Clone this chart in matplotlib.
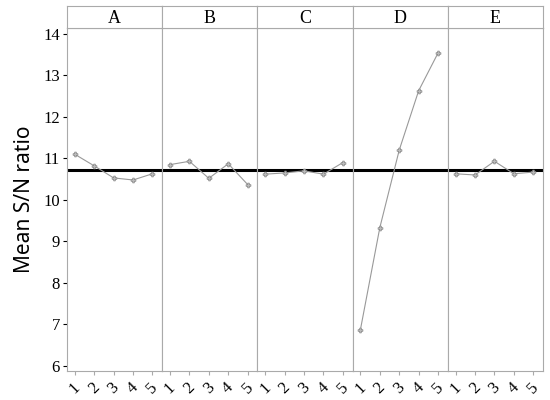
import matplotlib
matplotlib.use('Agg')
import matplotlib.pyplot as plt

factors = ['A', 'B', 'C', 'D', 'E']
levels = [1, 2, 3, 4, 5]
a_vals = [11.10, 10.82, 10.53, 10.48, 10.63]
b_vals = [10.85, 10.93, 10.52, 10.87, 10.37]
c_vals = [10.62, 10.65, 10.70, 10.62, 10.90]
d_vals = [6.87, 9.33, 11.20, 12.63, 13.54]
e_vals = [10.63, 10.60, 10.93, 10.63, 10.67]
series = [a_vals, b_vals, c_vals, d_vals, e_vals]
grand_mean = sum(a_vals) / len(a_vals)

edge = '#aaaaaa'
serif = 'Liberation Serif'

fig = plt.figure(figsize=(5.5, 4), dpi=100)
left, right = 67 / 550, 543 / 550
bottom, top = 1 - 371 / 400, 1 - 28 / 400
strip_top = 1 - 6 / 400
w = (right - left) / len(factors)

for i, (name, vals) in enumerate(zip(factors, series)):
    ax = fig.add_axes([left + i * w, bottom, w, top - bottom])
    ax.plot(levels, vals, color='#999999', lw=0.8, marker='P', ms=3.5,
            mfc='#bbbbbb', mec='#888888', mew=0.5)
    ax.axhline(grand_mean, color='black', lw=2.2, zorder=1)
    ax.set_xlim(0.6, 5.5)
    ax.set_ylim(5.88, 14.14)
    ax.set_xticks(levels)
    ax.set_xticklabels([str(l) for l in levels], rotation=45, family=serif, fontsize=12)
    for s in ax.spines.values():
        s.set_color(edge)
        s.set_linewidth(0.8)
    ax.tick_params(axis='x', colors=edge, labelcolor='black', length=3, pad=3)
    if i == 0:
        ax.set_yticks(range(6, 15))
        ax.set_yticklabels([str(v) for v in range(6, 15)], family=serif, fontsize=12)
        ax.tick_params(axis='y', colors='black', length=3, width=0.8, pad=2)
        ax.set_ylabel('Mean S/N ratio', fontsize=15, family='Noto Sans', labelpad=6)
    else:
        ax.set_yticks([])

    strip = fig.add_axes([left + i * w, top, w, strip_top - top])
    strip.set_xticks([])
    strip.set_yticks([])
    for s in strip.spines.values():
        s.set_color(edge)
        s.set_linewidth(0.8)
    strip.text(0.5, 0.45, name, ha='center', va='center', family=serif, fontsize=13,
               transform=strip.transAxes)

fig.savefig('out.png', dpi=100)
